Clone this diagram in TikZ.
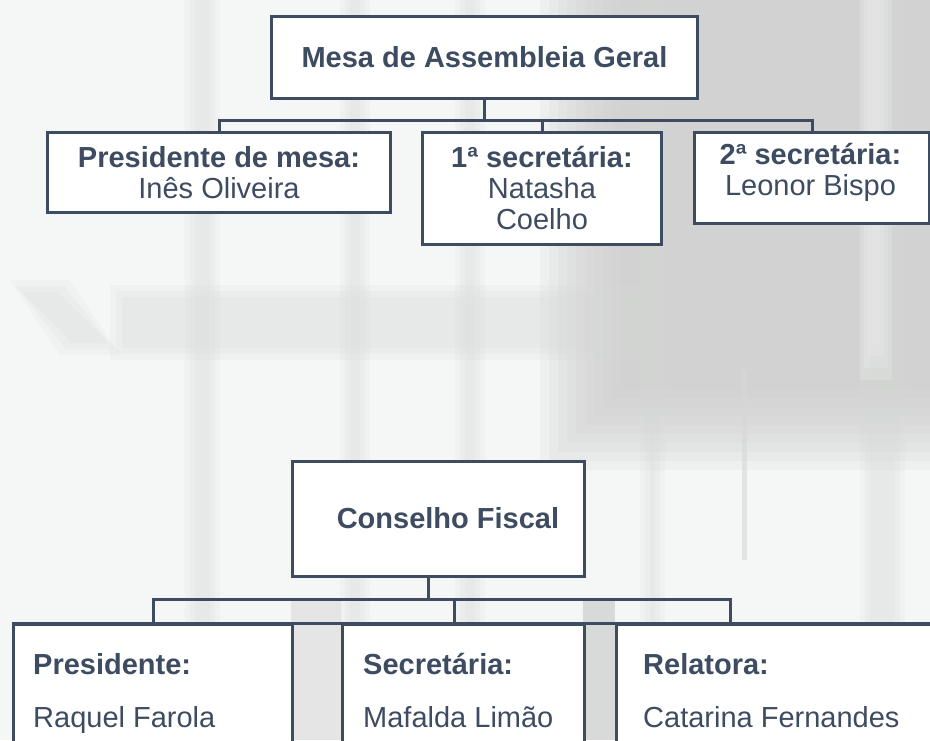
\documentclass[tikz,border=0pt]{standalone}
\usepackage{fontspec}
\setmainfont{Liberation Sans}
\definecolor{ink}{RGB}{62,76,97}
\definecolor{bgbase}{RGB}{245,246,246}
\definecolor{bggrey}{RGB}{205,205,205}
\definecolor{bgmid}{RGB}{214,218,216}
\begin{document}
\begin{tikzpicture}[x=1pt,y=-1pt,
  box/.style={draw=ink, line width=3pt, fill=white, inner sep=0pt, anchor=north west, text=ink},
  conn/.style={draw=ink, line width=3pt},
  big/.style={font=\fontsize{29}{31}\selectfont},
  bigb/.style={font=\bfseries\fontsize{29}{31}\selectfont},
  lbl/.style={text=ink, inner sep=0pt},
  soft/.style={fill=bgmid, opacity=0.16},
]
\useasboundingbox (0,0) rectangle (930,740);
\clip (0,0) rectangle (930,740);
% ---------- background (faded photo) ----------
\fill[bgbase] (0,0) rectangle (930,740);
% grey area top right, soft edged
\foreach \i in {0,...,9}{
  \fill[bggrey, opacity=0.16] (540+9*\i,-100) rectangle (1000,470-9*\i);
}
% lighter strip near the right edge
\foreach \i in {0,...,3}{
  \fill[white, opacity=0.22] (860+4*\i,-10) rectangle (892-4*\i,380-12*\i);
}
% soft vertical bands
\foreach \a/\b in {185/220, 340/370, 455/485, 640/665, 860/905}{
  \fill[soft] (\a,0) rectangle (\b,740);
  \fill[soft] (\a+5,0) rectangle (\b-5,740);
  \fill[soft] (\a+10,0) rectangle (\b-10,740);
}
\fill[bggrey!80, opacity=0.6] (742,370) rectangle (747,560);
% blurred shapes in the middle
\foreach \d in {0,6,12}{
  \fill[soft] (10+\d,280+\d) -- (70-\d,280+\d) -- (120-\d,355-\d) -- (60+\d,355-\d) -- cycle;
  \fill[soft] (110+\d,285+\d) rectangle (640-\d,360-\d);
}
% gaps between bottom boxes
\fill[bggrey, opacity=0.4] (291,600) rectangle (341,740);
\fill[bggrey, opacity=0.7] (583,600) rectangle (615,740);
% ---------- Mesa de Assembleia Geral ----------
\node[box, bigb, minimum width=426pt, minimum height=82pt] (mesa) at (270,15) {Mesa de Assembleia Geral};
\node[box, big, align=center, minimum width=343pt, minimum height=80pt] (p1) at (46,131)
  {\textbf{Presidente de mesa:}\\Inês Oliveira};
\node[box, big, align=center, minimum width=239pt, minimum height=112pt] (p2) at (421,131)
  {\textbf{1ª secretária:}\\Natasha\\Coelho};
\node[box, minimum width=235pt, minimum height=91pt] (p3) at (693,131) {};
\node[lbl, big, align=center] (p3t) at (810.5,172.5) {\textbf{2ª secretária:}\\Leonor Bispo};
\draw[conn] (mesa.south) -- ++(0,20) coordinate (busA);
\draw[conn] (p1.north) |- (busA) -| (p3.north);
\draw[conn] (p2.north) -- (p2.north |- busA);
% ---------- Conselho Fiscal ----------
\node[box, minimum width=292pt, minimum height=115pt] (cons) at (291,460) {};
\node[lbl, bigb] (consT) at (448,518) {Conselho Fiscal};
\coordinate (cbus) at (428,599);
\coordinate (dA) at (153,623);
\coordinate (dB) at (454,623);
\coordinate (dC) at (730,623);
\node[box, minimum width=279pt, minimum height=140pt] (bA) at (12,623) {};
\node[box, minimum width=242pt, minimum height=140pt] (bB) at (341,623) {};
\node[box, minimum width=340pt, minimum height=140pt] (bC) at (615,623) {};
\draw[conn] (cons.south -| cbus) -- (cbus);
\draw[conn] (dA) |- (cbus) -| (dC);
\draw[conn] (dB) -- (dB |- cbus);
\draw[conn] (bA.north west) -- (bC.north east);
\node[lbl, bigb, anchor=base west] (tA1) at (33,674) {Presidente:};
\node[lbl, big, anchor=base west] (tA2) at (33,727) {Raquel Farola};
\node[lbl, bigb, anchor=base west] (tB1) at (363,674) {Secretária:};
\node[lbl, big, anchor=base west] (tB2) at (363,727) {Mafalda Limão};
\node[lbl, bigb, anchor=base west] (tC1) at (643,674) {Relatora:};
\node[lbl, big, anchor=base west] (tC2) at (643,727) {Catarina Fernandes};
\end{tikzpicture}
\end{document}
